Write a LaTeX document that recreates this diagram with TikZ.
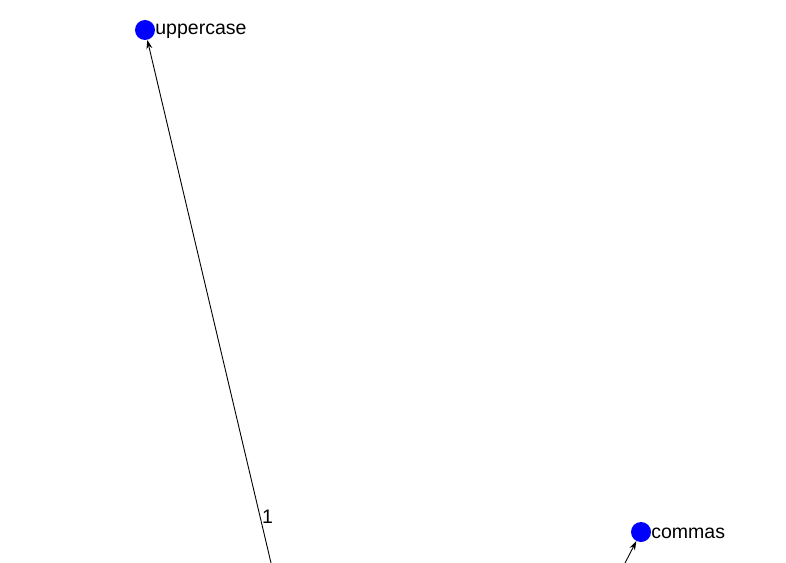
\documentclass[tikz,border=0pt]{standalone}
\usepackage{fontspec}
\setmainfont{Liberation Sans}
\usetikzlibrary{arrows.meta}

\begin{document}
\begin{tikzpicture}[x=1bp,y=-1bp,
        vertex/.style={circle,fill=blue,inner sep=0pt,minimum size=20bp},
        vlabel/.style={anchor=west,inner sep=0pt,yshift=-1.5bp,font=\fontsize{19.5bp}{22bp}\selectfont},
        edge/.style={line width=0.9bp,-{Stealth[length=9bp,width=6bp]}}]
        % Fix the canvas
        \useasboundingbox (0,0) rectangle (786,563);
        \clip (0,0) rectangle (786,563);
        % Place the vertices
        \node[vertex] (uppercase) at (145,30) {};
        \node[vertex] (commas) at (641,532) {};
        % Name the vertices
        \node[vlabel] (uppercaselabel) at (uppercase.east) {uppercase};
        \node[vlabel] (commaslabel) at (commas.east) {commas};
        % Sources lie below the frame
        \coordinate (srcA) at (284.5,620);
        \coordinate (srcB) at (606,600);
        % Draw the edges
        \draw[edge] (srcA) -- node[pos=0.178,anchor=west,inner sep=1.5bp,
            font=\fontsize{19.5bp}{22bp}\selectfont] (weight) {1} (uppercase);
        \draw[edge] (srcB) -- (commas);
    \end{tikzpicture}
\end{document}
